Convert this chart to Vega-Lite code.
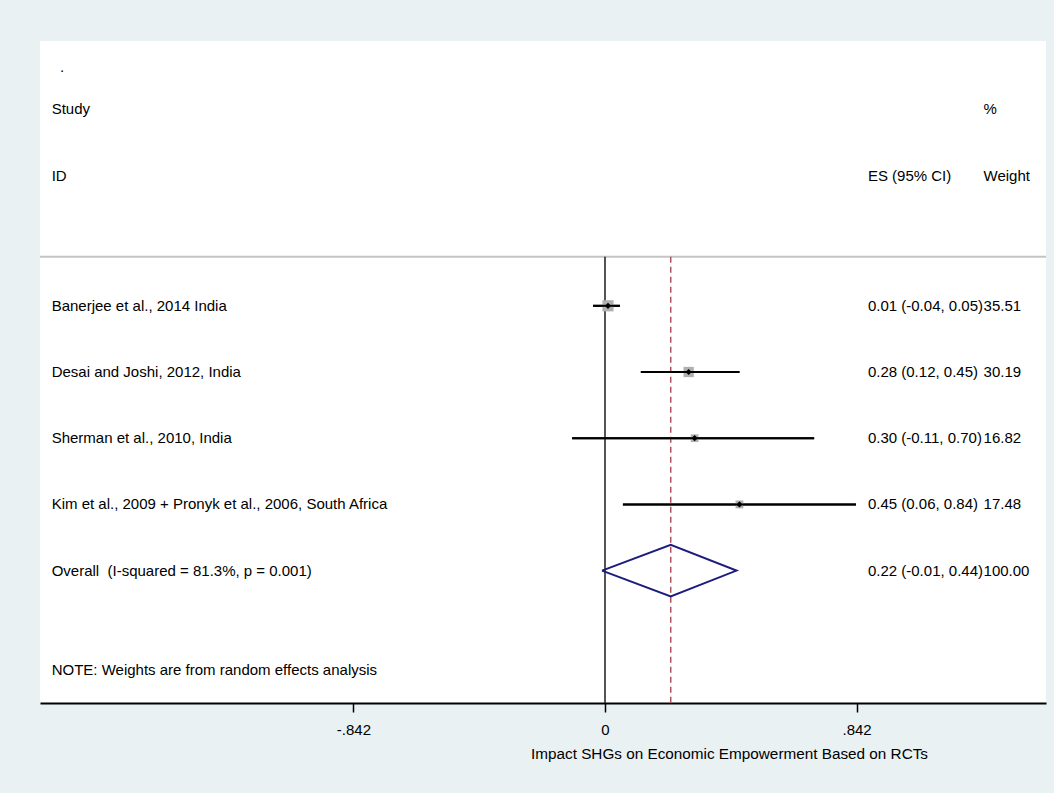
{
  "$schema": "https://vega.github.io/schema/vega-lite/v6.json",
  "width": 1006,
  "height": 662,
  "autosize": {"type": "none"},
  "padding": {"left": 40, "top": 41, "right": 8, "bottom": 90},
  "background": "#e9f1f3",
  "config": {
    "view": {"stroke": null, "fill": "white"},
    "font": "Liberation Sans",
    "text": {"font": "Liberation Sans", "fontSize": 15, "color": "black", "align": "left", "baseline": "middle"}
  },
  "datasets": {
    "studies": [
      {"study": "Banerjee et al., 2014 India", "row": 4, "es": 0.01, "lo": -0.04, "hi": 0.05, "weight": 35.51},
      {"study": "Desai and Joshi, 2012, India", "row": 5, "es": 0.28, "lo": 0.12, "hi": 0.45, "weight": 30.19},
      {"study": "Sherman et al., 2010, India", "row": 6, "es": 0.30, "lo": -0.11, "hi": 0.70, "weight": 16.82},
      {"study": "Kim et al., 2009 + Pronyk et al., 2006, South Africa", "row": 7, "es": 0.45, "lo": 0.06, "hi": 0.84, "weight": 17.48}
    ],
    "table": [
      {"row": 1.02, "col": "left", "text": "Study"},
      {"row": 2.04, "col": "left", "text": "ID"},
      {"row": 1.02, "col": "wt", "text": "%"},
      {"row": 2.04, "col": "es", "text": "ES (95% CI)"},
      {"row": 2.04, "col": "wt", "text": "Weight"},
      {"row": 4, "col": "left", "text": "Banerjee et al., 2014 India"},
      {"row": 5, "col": "left", "text": "Desai and Joshi, 2012, India"},
      {"row": 6, "col": "left", "text": "Sherman et al., 2010, India"},
      {"row": 7, "col": "left", "text": "Kim et al., 2009 + Pronyk et al., 2006, South Africa"},
      {"row": 8, "col": "left", "text": "Overall\u00a0\u00a0(I-squared = 81.3%, p = 0.001)"},
      {"row": 9.5, "col": "left", "text": "NOTE: Weights are from random effects analysis"},
      {"row": 4, "col": "es", "text": "0.01 (-0.04, 0.05)"},
      {"row": 5, "col": "es", "text": "0.28 (0.12, 0.45)"},
      {"row": 6, "col": "es", "text": "0.30 (-0.11, 0.70)"},
      {"row": 7, "col": "es", "text": "0.45 (0.06, 0.84)"},
      {"row": 8, "col": "es", "text": "0.22 (-0.01, 0.44)"},
      {"row": 4, "col": "wt", "text": "35.51"},
      {"row": 5, "col": "wt", "text": "30.19"},
      {"row": 6, "col": "wt", "text": "16.82"},
      {"row": 7, "col": "wt", "text": "17.48"},
      {"row": 8, "col": "wt", "text": "100.00"}
    ],
    "diamond": [
      {"x": -0.01, "y": 8, "o": 1},
      {"x": 0.22, "y": 7.61, "o": 2},
      {"x": 0.44, "y": 8, "o": 3},
      {"x": 0.22, "y": 8.39, "o": 4},
      {"x": -0.01, "y": 8, "o": 5}
    ],
    "one": [{"k": 1}]
  },
  "layer": [
    {
      "data": {"name": "studies"},
      "mark": {"type": "rule", "color": "black", "strokeWidth": 2},
      "encoding": {
        "x": {"field": "lo", "type": "quantitative", "scale": {"domain": [-1.891, 1.476], "nice": false, "zero": false},
          "axis": {
            "values": [-0.842, 0, 0.842],
            "labelExpr": "datum.value == 0 ? '0' : (datum.value < 0 ? '-' : '') + replace(format(abs(datum.value), '.3f'), '0.', '.')",
            "title": "Impact SHGs on Economic Empowerment Based on RCTs",
            "grid": false,
            "domainColor": "black", "domainWidth": 2,
            "tickColor": "black", "tickWidth": 1.5, "tickSize": 9,
            "labelFont": "Liberation Sans", "labelFontSize": 15, "labelColor": "black", "labelPadding": 10,
            "titleFont": "Liberation Sans", "titleFontSize": 15.3, "titleFontWeight": "normal", "titleColor": "black",
            "titlePadding": 9, "titleX": 689, "titleAlign": "center"
          }},
        "x2": {"field": "hi"},
        "y": {"field": "row", "type": "quantitative", "scale": {"domain": [0, 10], "reverse": true, "nice": false, "zero": false}, "axis": null}
      }
    },
    {
      "data": {"name": "one"},
      "mark": {"type": "rule", "color": "#c4c4c4", "strokeWidth": 2},
      "encoding": {
        "x": {"datum": -1.891, "type": "quantitative"},
        "x2": {"datum": 1.476},
        "y": {"datum": 3.26, "type": "quantitative", "axis": null}
      }
    },
    {
      "data": {"name": "one"},
      "mark": {"type": "rule", "color": "#2a2a2a", "strokeWidth": 1.6},
      "encoding": {
        "x": {"datum": 0, "type": "quantitative"},
        "y": {"datum": 3.26, "type": "quantitative", "axis": null},
        "y2": {"datum": 10}
      }
    },
    {
      "data": {"name": "one"},
      "mark": {"type": "rule", "color": "#b0505e", "strokeWidth": 1.5, "strokeDash": [6, 4]},
      "encoding": {
        "x": {"datum": 0.22, "type": "quantitative"},
        "y": {"datum": 3.26, "type": "quantitative", "axis": null},
        "y2": {"datum": 10}
      }
    },
    {
      "data": {"name": "studies"},
      "mark": {"type": "point", "shape": "square", "filled": true, "color": "#b0b0b0", "opacity": 1},
      "encoding": {
        "x": {"field": "es", "type": "quantitative"},
        "y": {"field": "row", "type": "quantitative", "axis": null},
        "size": {"field": "weight", "type": "quantitative", "scale": {"domain": [0, 35.51], "range": [0, 125]}, "legend": null}
      }
    },
    {
      "data": {"name": "studies"},
      "mark": {"type": "rule", "color": "black", "strokeWidth": 2},
      "encoding": {
        "x": {"field": "lo", "type": "quantitative"},
        "x2": {"field": "hi"},
        "y": {"field": "row", "type": "quantitative", "axis": null}
      }
    },
    {
      "data": {"name": "studies"},
      "mark": {"type": "point", "shape": "diamond", "filled": true, "color": "black", "opacity": 1, "size": 38},
      "encoding": {
        "x": {"field": "es", "type": "quantitative"},
        "y": {"field": "row", "type": "quantitative", "axis": null}
      }
    },
    {
      "data": {"name": "diamond"},
      "mark": {"type": "line", "color": "#1c1c7c", "strokeWidth": 2},
      "encoding": {
        "x": {"field": "x", "type": "quantitative"},
        "y": {"field": "y", "type": "quantitative", "axis": null},
        "order": {"field": "o", "type": "quantitative"}
      }
    },
    {
      "data": {"name": "one"},
      "mark": {"type": "text", "text": "."},
      "encoding": {
        "x": {"datum": -1.824, "type": "quantitative"},
        "y": {"datum": 0.39, "type": "quantitative", "axis": null}
      }
    },
    {
      "data": {"name": "table"},
      "transform": [{"filter": "datum.col == 'left'"}],
      "mark": {"type": "text"},
      "encoding": {
        "x": {"datum": -1.852, "type": "quantitative"},
        "y": {"field": "row", "type": "quantitative", "axis": null},
        "text": {"field": "text"}
      }
    },
    {
      "data": {"name": "table"},
      "transform": [{"filter": "datum.col == 'es'"}],
      "mark": {"type": "text"},
      "encoding": {
        "x": {"datum": 0.880, "type": "quantitative"},
        "y": {"field": "row", "type": "quantitative", "axis": null},
        "text": {"field": "text"}
      }
    },
    {
      "data": {"name": "table"},
      "transform": [{"filter": "datum.col == 'wt'"}],
      "mark": {"type": "text"},
      "encoding": {
        "x": {"datum": 1.267, "type": "quantitative"},
        "y": {"field": "row", "type": "quantitative", "axis": null},
        "text": {"field": "text"}
      }
    }
  ]
}
